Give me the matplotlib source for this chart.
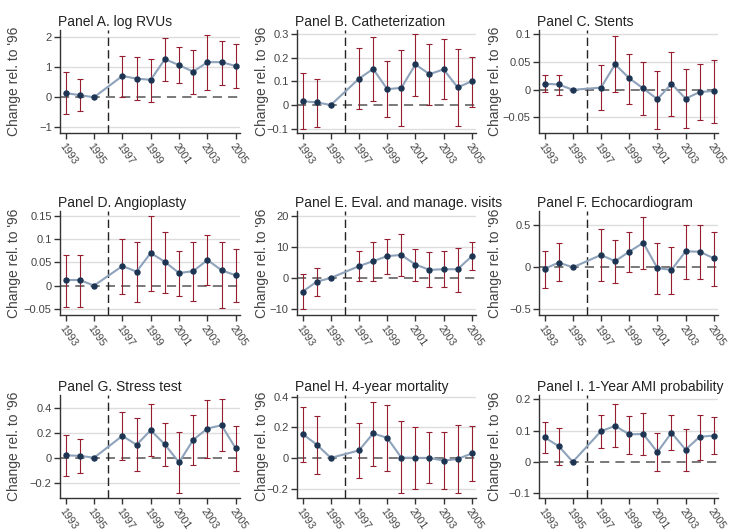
import matplotlib
matplotlib.use('Agg')
import matplotlib.pyplot as plt
from matplotlib.ticker import FuncFormatter

plt.rcParams['font.family'] = ['Liberation Sans', 'DejaVu Sans']

# ---------------- data ----------------
years = [1993, 1994, 1995, 1997, 1998, 1999, 2000, 2001, 2002, 2003, 2004, 2005]
year_ticks = [1993, 1995, 1997, 1999, 2001, 2003, 2005]

# Panel A. log RVUs
rvu_est = [0.14, 0.07, 0, 0.71, 0.62, 0.58, 1.27, 1.07, 0.85, 1.17, 1.17, 1.04]
rvu_lo = [-0.57, -0.47, None, 0.02, -0.10, -0.15, 0.55, 0.47, 0.10, 0.25, 0.42, 0.32]
rvu_hi = [0.83, 0.60, None, 1.38, 1.34, 1.29, 1.98, 1.66, 1.57, 2.09, 1.89, 1.77]

# Panel B. Catheterization
cath_est = [0.016, 0.011, 0, 0.111, 0.152, 0.067, 0.072, 0.171, 0.130, 0.150, 0.074, 0.100]
cath_lo = [-0.100, -0.093, None, -0.018, 0.015, -0.052, -0.089, 0.039, 0.000, 0.026, -0.089, -0.008]
cath_hi = [0.133, 0.111, None, 0.239, 0.288, 0.187, 0.232, 0.301, 0.257, 0.276, 0.235, 0.202]

# Panel C. Stents
stent_est = [0.011, 0.0096, 0, 0.004, 0.046, 0.021, 0.0024, -0.017, 0.011, -0.016, -0.004, -0.002]
stent_lo = [-0.004, -0.0096, None, -0.037, -0.004, -0.025, -0.046, -0.070, -0.048, -0.069, -0.054, -0.060]
stent_hi = [0.027, 0.027, None, 0.045, 0.097, 0.065, 0.051, 0.034, 0.069, 0.037, 0.046, 0.053]

# Panel D. Angioplasty
angio_est = [0.012, 0.012, 0, 0.042, 0.030, 0.070, 0.051, 0.027, 0.031, 0.055, 0.033, 0.022]
angio_lo = [-0.045, -0.045, None, -0.018, -0.036, -0.011, -0.015, -0.022, -0.032, 0.001, -0.048, -0.036]
angio_hi = [0.066, 0.066, None, 0.099, 0.094, 0.149, 0.114, 0.075, 0.094, 0.108, 0.093, 0.079]

# Panel E. Eval. and manage. visits
em_est = [-4.4, -1.2, 0, 3.8, 5.4, 7.0, 7.4, 4.3, 2.6, 2.8, 2.8, 7.0]
em_lo = [-10.0, -5.8, None, -1.1, -0.9, 1.25, 0.6, -0.9, -3.0, -3.0, -4.4, 2.4]
em_hi = [1.25, 3.2, None, 8.8, 11.5, 12.5, 14.2, 9.4, 8.3, 8.5, 9.7, 11.5]

# Panel F. Echocardiogram
echo_est = [-0.018, 0.057, 0, 0.147, 0.073, 0.186, 0.292, -0.010, -0.030, 0.190, 0.186, 0.108]
echo_lo = [-0.25, -0.167, None, -0.167, -0.19, -0.057, -0.02, -0.32, -0.32, -0.14, -0.135, -0.218]
echo_hi = [0.20, 0.285, None, 0.453, 0.33, 0.418, 0.598, 0.29, 0.245, 0.508, 0.50, 0.425]

# Panel G. Stress test
stress_est = [0.019, 0.016, 0, 0.176, 0.104, 0.221, 0.107, -0.037, 0.144, 0.235, 0.261, 0.075]
stress_lo = [-0.147, -0.123, None, -0.016, -0.109, 0.016, -0.069, -0.283, -0.061, 0.000, 0.053, -0.109]
stress_hi = [0.184, 0.152, None, 0.368, 0.323, 0.429, 0.283, 0.205, 0.344, 0.461, 0.469, 0.259]

# Panel H. 4-year mortality
mort_est = [0.156, 0.087, 0, 0.049, 0.160, 0.131, 0.002, 0.000, 0.000, -0.018, -0.007, 0.029]
mort_lo = [-0.027, -0.107, None, -0.133, -0.051, -0.087, -0.229, -0.200, -0.167, -0.200, -0.229, -0.149]
mort_hi = [0.333, 0.276, None, 0.231, 0.364, 0.344, 0.238, 0.200, 0.167, 0.167, 0.216, 0.207]

# Panel I. 1-Year AMI probability
ami_est = [0.078, 0.050, 0, 0.098, 0.115, 0.088, 0.089, 0.031, 0.093, 0.039, 0.080, 0.084]
ami_lo = [0.028, -0.010, None, 0.044, 0.046, 0.024, 0.022, -0.031, 0.037, -0.028, 0.006, 0.026]
ami_hi = [0.127, 0.107, None, 0.150, 0.185, 0.147, 0.156, 0.093, 0.151, 0.105, 0.151, 0.145]

panels = [
    ("Panel A. log RVUs", rvu_est, rvu_lo, rvu_hi, [-1, 0, 1, 2], (-1.19, 2.24)),
    ("Panel B. Catheterization", cath_est, cath_lo, cath_hi, [-0.1, 0, 0.1, 0.2, 0.3], (-0.118, 0.316)),
    ("Panel C. Stents", stent_est, stent_lo, stent_hi, [-0.05, 0, 0.05, 0.1], (-0.078, 0.108)),
    ("Panel D. Angioplasty", angio_est, angio_lo, angio_hi, [-0.05, 0, 0.05, 0.1, 0.15], (-0.063, 0.16)),
    ("Panel E. Eval. and manage. visits", em_est, em_lo, em_hi, [-10, 0, 10, 20], (-11.9, 21.5)),
    ("Panel F. Echocardiogram", echo_est, echo_lo, echo_hi, [-0.5, 0, 0.5], (-0.567, 0.67)),
    ("Panel G. Stress test", stress_est, stress_lo, stress_hi, [-0.2, 0, 0.2, 0.4], (-0.323, 0.504)),
    ("Panel H. 4-year mortality", mort_est, mort_lo, mort_hi, [-0.2, 0, 0.2, 0.4], (-0.262, 0.411)),
    ("Panel I. 1-Year AMI probability", ami_est, ami_lo, ami_hi, [-0.1, 0, 0.1, 0.2], (-0.116, 0.214)),
]

# ---------------- layout (pixels) ----------------
W, H = 733, 531
col_left = [60, 297, 539]
col_width = [180, 179, 179]
row_top = [30, 211, 395]
row_bottom = [133, 315, 498]
label_x = [-0.217, -0.158, -0.205]

line_col = "#8ea3bb"
dot_col = "#1d3552"
err_col = "#951f30"
txt_col = "#444444"


def fmt(v, pos):
    s = "{:g}".format(round(v, 4))
    return s.replace("-", "\u2212")


fig = plt.figure(figsize=(W / 100, H / 100), dpi=100)

for i, (title, est, lo, hi, yt, yl) in enumerate(panels):
    r, c = divmod(i, 3)
    ax = fig.add_axes([col_left[c] / W, 1 - row_bottom[r] / H,
                       col_width[c] / W, (row_bottom[r] - row_top[r]) / H])

    # grid + reference lines
    for t in yt:
        if t != 0:
            ax.axhline(t, color="#dddddd", lw=1, zorder=0)
    ax.axhline(0, color="#555555", lw=1.1, ls=(0, (6, 4)), zorder=1)
    ax.axvline(1996, color="#222222", lw=1, ls=(0, (6, 3)), zorder=1)

    # confidence intervals (no bar for the reference year)
    xs = [x for x, l in zip(years, lo) if l is not None]
    ys = [e for e, l in zip(est, lo) if l is not None]
    lows = [e - l for e, l in zip(est, lo) if l is not None]
    highs = [h - e for e, h in zip(est, hi) if h is not None]
    ax.errorbar(xs, ys, yerr=[lows, highs], fmt='none', ecolor=err_col,
                elinewidth=0.8, capsize=2.2, capthick=0.8, zorder=2)

    ax.plot(years, est, color=line_col, lw=1.5, zorder=3)
    ax.plot(years, est, 'o', color=dot_col, ms=3.6, zorder=4)

    ax.set_xlim(1992.6, 2005.3)
    ax.set_ylim(*yl)
    ax.set_yticks(yt)
    ax.yaxis.set_major_formatter(FuncFormatter(fmt))
    ax.set_xticks(year_ticks)
    ax.set_xticklabels([str(y) for y in year_ticks], rotation=-55,
                       ha='left', va='top', rotation_mode='anchor', fontsize=7.5)

    for s in ("top", "right"):
        ax.spines[s].set_visible(False)
    for s in ("left", "bottom"):
        ax.spines[s].set_color("#333333")
        ax.spines[s].set_linewidth(1)
    ax.tick_params(length=4, width=1, color="#333333", labelcolor=txt_col, pad=2)
    ax.tick_params(axis='y', labelsize=8)

    ax.set_title(title, loc='left', fontsize=10, color="#222222", pad=3, x=-0.012)
    ax.set_ylabel("Change rel. to '96", fontsize=10, color=txt_col)
    ax.yaxis.set_label_coords(label_x[c], 0.5)

fig.savefig("out.png", dpi=100)
